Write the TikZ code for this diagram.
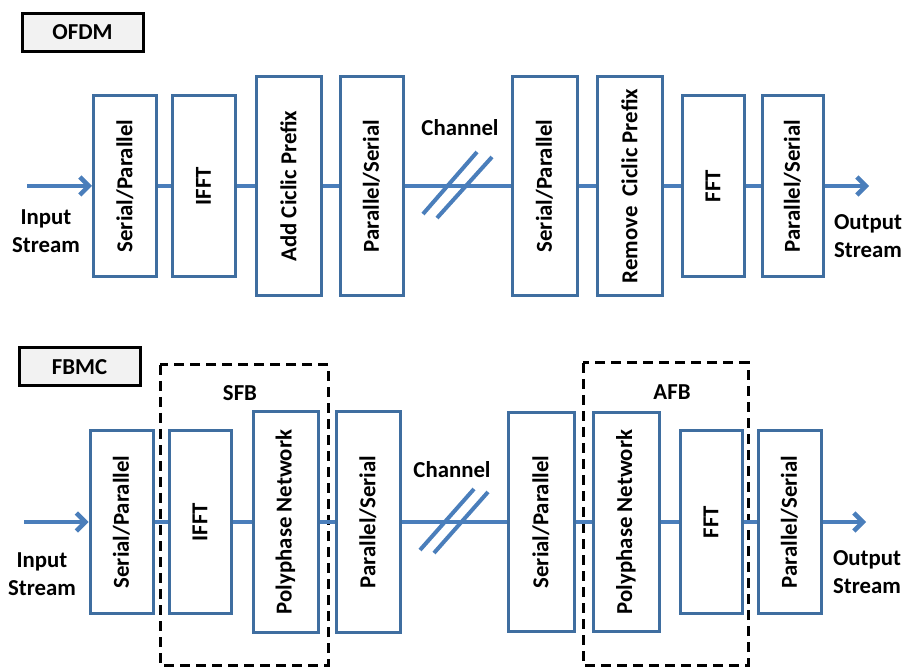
\documentclass[tikz,border=0pt]{standalone}
\usepackage{fontspec}
\setmainfont{Carlito}
\usetikzlibrary{arrows.meta}
\definecolor{boxblue}{RGB}{63,110,160}
\definecolor{lineblue}{RGB}{74,126,187}
\definecolor{labgray}{RGB}{242,242,242}
\tikzset{
  txt/.style={font=\fontsize{22.8}{28}\selectfont\bfseries, inner sep=0pt},
  blk/.style={draw=boxblue, line width=3pt, fill=white, minimum width=63pt, minimum height=181pt, inner sep=0pt, txt},
  tall/.style={blk, minimum width=65pt, minimum height=219pt},
  tag/.style={draw=black, line width=3pt, fill=labgray, minimum width=121pt, minimum height=38pt, txt},
  conn/.style={draw=lineblue, line width=4pt},
  ioarrow/.style={draw=lineblue, line width=4.5pt, -{Straight Barb[length=9pt,width=18pt]}},
  slash/.style={draw=lineblue, line width=4pt},
  grp/.style={draw=black, line width=3pt, dash pattern=on 10pt off 6pt},
  io/.style={txt, align=center}
}
\newcommand{\vt}[1]{\rotatebox{90}{#1}}
\begin{document}
\begin{tikzpicture}[x=1pt,y=-1pt]
\useasboundingbox (0,0) rectangle (906,668);
% ---------------- OFDM ----------------
\node[tag] (ofdm) at (82.5,32.5) {OFDM};
\node[blk]  (sp1)  at (125,186)   {\vt{Serial/Parallel}};
\node[blk]  (ifft) at (203.5,186) {\vt{IFFT}};
\node[tall] (acp)  at (288.5,186) {\vt{Add Ciclic Prefix}};
\node[tall,minimum width=63pt] (ps1) at (371.5,186) {\vt{Parallel/Serial}};
\node[tall] (sp2)  at (544.5,186) {\vt{Serial/Parallel}};
\node[tall] (rcp)  at (629.5,186) {\vt{Remove~ Ciclic Prefix}};
\node[blk,minimum width=62pt] (fft) at (713,186) {\vt{FFT}};
\node[blk,minimum width=61pt] (ps2) at (792.5,186) {\vt{Parallel/Serial}};
\coordinate (in1) at (27,186);
\coordinate (out1) at (869,186);
\draw[ioarrow] (in1) -- (sp1.west);
\draw[conn] (sp1.east) -- (ifft.west);
\draw[conn] (ifft.east) -- (acp.west);
\draw[conn] (acp.east) -- (ps1.west);
\draw[conn] (ps1.east) -- (sp2.west);
\draw[conn] (sp2.east) -- (rcp.west);
\draw[conn] (rcp.east) -- (fft.west);
\draw[conn] (fft.east) -- (ps2.west);
\draw[ioarrow] (ps2.east) -- (out1);
\draw[slash] (423,214) -- (477,152);
\draw[slash] (437,218) -- (492,157);
\node[txt] (ch1) at (460,128) {Channel};
\node[io] (inl1) at (46,231) {Input\\Stream};
\node[io] (outl1) at (868,236) {Output\\Stream};
% ---------------- FBMC ----------------
\node[tag] (fbmc) at (79.5,367) {FBMC};
\draw[grp] (160,365) rectangle (328,665);
\draw[grp] (583,363) rectangle (748,665);
\node[txt] (sfb) at (240,393) {SFB};
\node[txt] (afb) at (672,392) {AFB};
\node[blk,minimum height=183pt]  (sp3)   at (121.5,522) {\vt{Serial/Parallel}};
\node[blk,minimum width=62pt,minimum height=183pt] (ifft2) at (200,522) {\vt{IFFT}};
\node[tall,minimum height=220pt] (pn1) at (285.5,522) {\vt{Polyphase Network}};
\node[tall,minimum width=64pt,minimum height=220pt] (ps3) at (368,522) {\vt{Parallel/Serial}};
\node[tall,minimum width=66pt] (sp4) at (541,522) {\vt{Serial/Parallel}};
\node[tall,minimum width=66pt] (pn2) at (626,522) {\vt{Polyphase Network}};
\node[blk,minimum width=62pt,minimum height=182pt] (fft2) at (711,522) {\vt{FFT}};
\node[blk,minimum height=182pt] (ps4) at (789.5,522) {\vt{Parallel/Serial}};
\coordinate (in2) at (24,522);
\coordinate (out2) at (866,522);
\draw[ioarrow] (in2) -- (sp3.west);
\draw[conn] (sp3.east) -- (ifft2.west);
\draw[conn] (ifft2.east) -- (pn1.west);
\draw[conn] (pn1.east) -- (ps3.west);
\draw[conn] (ps3.east) -- (sp4.west);
\draw[conn] (sp4.east) -- (pn2.west);
\draw[conn] (pn2.east) -- (fft2.west);
\draw[conn] (fft2.east) -- (ps4.west);
\draw[ioarrow] (ps4.east) -- (out2);
\draw[slash] (420,550) -- (474,489);
\draw[slash] (434,553) -- (488,492);
\node[txt] (ch2) at (452,470) {Channel};
\node[io] (inl2) at (42,574) {Input\\Stream};
\node[io] (outl2) at (867,572) {Output\\Stream};
\end{tikzpicture}
\end{document}
